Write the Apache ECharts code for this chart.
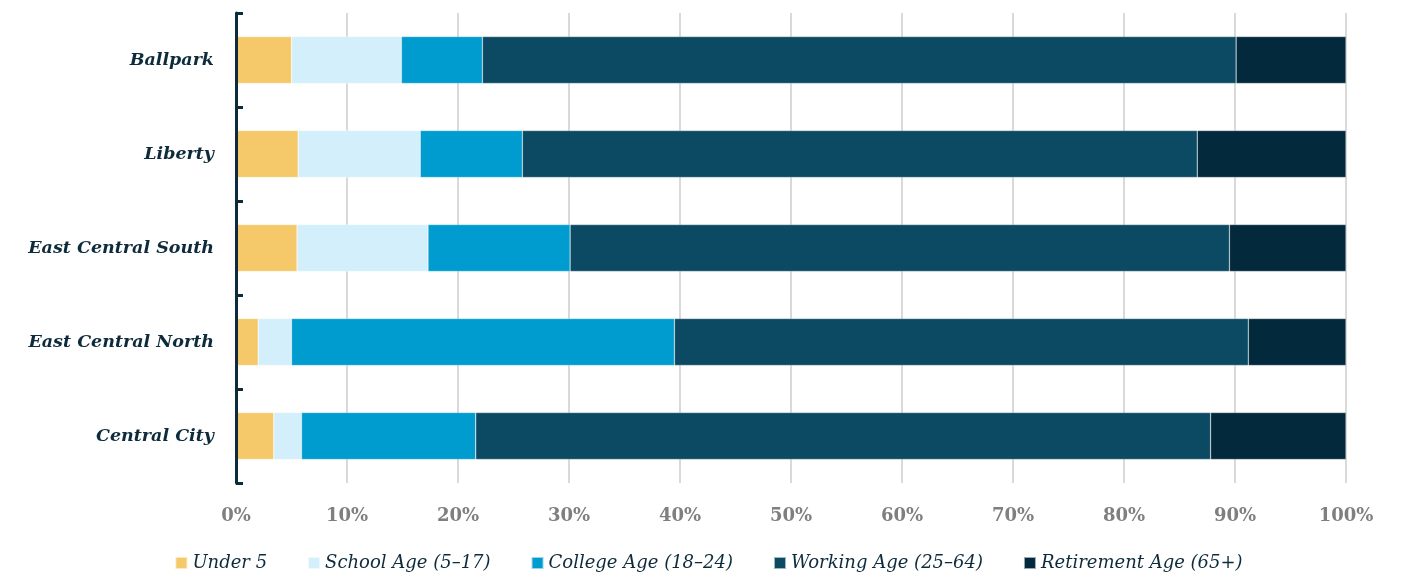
<!DOCTYPE html>
<html>
<head>
<meta charset="utf-8">
<script src="https://cdn.jsdelivr.net/npm/echarts@6/dist/echarts.min.js"></script>
<style>
  html, body { margin: 0; padding: 0; background: #fff; }
  #chart { width: 1417px; height: 579px; }
</style>
</head>
<body>
<div id="chart"></div>
<script>
const categories = ["Central City", "East Central North", "East Central South", "Liberty", "Ballpark"];
const under5 = [3.4, 2.0, 5.5, 5.6, 5.0];
const schoolAge = [2.5, 3.0, 11.8, 11.0, 9.9];
const collegeAge = [15.7, 34.5, 12.8, 9.2, 7.3];
const workingAge = [66.2, 51.7, 59.4, 60.8, 67.9];
const retirementAge = [12.2, 8.8, 10.5, 13.4, 9.9];

const seriesDefs = [
  { name: "Under 5", data: under5, color: "#f5c96a" },
  { name: "School Age (5\u201317)", data: schoolAge, color: "#d3effb" },
  { name: "College Age (18\u201324)", data: collegeAge, color: "#009ccf" },
  { name: "Working Age (25\u201364)", data: workingAge, color: "#0c4a63" },
  { name: "Retirement Age (65+)", data: retirementAge, color: "#032a3c" }
];

const serif = "'DejaVu Serif', 'Liberation Serif', serif";
const chart = echarts.init(document.getElementById("chart"));

chart.setOption({
  animation: false,
  grid: { left: 236, right: 71, top: 13, bottom: 96 },
  legend: {
    bottom: 2,
    left: "center",
    itemWidth: 12,
    itemHeight: 12,
    itemGap: 40,
    icon: "rect",
    textStyle: { fontFamily: serif, fontStyle: "italic", fontSize: 18, color: "#0e2b3c" }
  },
  xAxis: {
    type: "value",
    min: 0,
    max: 100,
    interval: 10,
    axisLine: { show: false },
    axisTick: { show: false },
    splitLine: { lineStyle: { color: "#d9d9d9", width: 2 } },
    axisLabel: {
      formatter: "{value}%",
      margin: 24,
      fontFamily: serif,
      fontWeight: "bold",
      fontSize: 18,
      color: "#7f7f7f"
    }
  },
  yAxis: {
    type: "category",
    data: categories,
    z: 10,
    axisLine: { show: true, lineStyle: { color: "#0e2b3c", width: 3 } },
    axisTick: { show: true, inside: true, length: 7, lineStyle: { color: "#0e2b3c", width: 3 } },
    axisLabel: {
      margin: 22,
      fontFamily: serif,
      fontWeight: "bold",
      fontStyle: "italic",
      fontSize: 17.5,
      color: "#0e2b3c"
    }
  },
  series: seriesDefs.map(s => ({
    name: s.name,
    type: "bar",
    stack: "total",
    barWidth: "50%",
    data: s.data,
    itemStyle: { color: s.color, borderColor: "rgba(255,255,255,0.6)", borderWidth: 0.5 }
  }))
});
</script>
</body>
</html>
